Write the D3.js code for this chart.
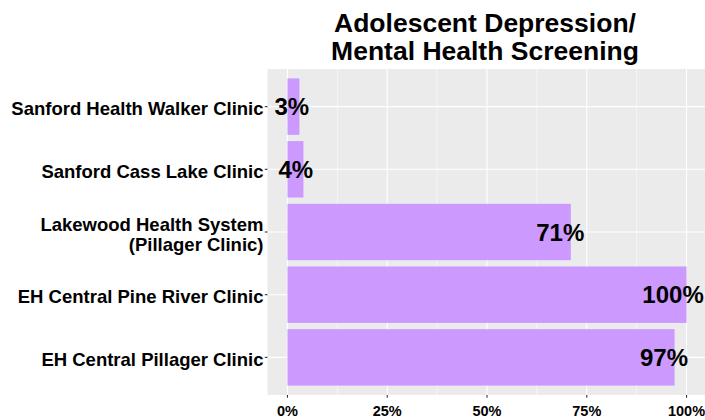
<!DOCTYPE html>
<html><head><meta charset="utf-8">
<script src="https://cdn.jsdelivr.net/npm/d3@7"></script>
<style>body{margin:0;background:#fff}svg{display:block}text{font-family:"Liberation Sans",Arial,sans-serif;font-weight:bold}</style>
</head><body>
<script>
const categories = [
  ["Sanford Health Walker Clinic"],
  ["Sanford Cass Lake Clinic"],
  ["Lakewood Health System", "(Pillager Clinic)"],
  ["EH Central Pine River Clinic"],
  ["EH Central Pillager Clinic"]
];
const values = [3, 4, 71, 100, 97];
const xTicks = [0, 25, 50, 75, 100];
const xMinor = [12.5, 37.5, 62.5, 87.5];
const titleLines = ["Adolescent Depression/", "Mental Health Screening"];

const W = 705, H = 420;
const L = 267.5, R = 706.5, T = 69, B = 395;
const svg = d3.select("body").append("svg").attr("width", W).attr("height", H);

const x = d3.scaleLinear().domain([-5, 105]).range([L, R]);
const keys = categories.map((c, i) => i);
const y = d3.scalePoint().domain(keys).range([T, B]).padding(0.6);
const bh = y.step() * 0.9;

svg.append("rect").attr("x", L).attr("y", T).attr("width", R - L).attr("height", B - T).attr("fill", "#EBEBEB");

svg.selectAll(".minor").data(xMinor).enter().append("line")
  .attr("x1", d => x(d)).attr("x2", d => x(d)).attr("y1", T).attr("y2", B)
  .attr("stroke", "#fff").attr("stroke-width", 0.55);
svg.selectAll(".major").data(xTicks).enter().append("line")
  .attr("x1", d => x(d)).attr("x2", d => x(d)).attr("y1", T).attr("y2", B)
  .attr("stroke", "#fff").attr("stroke-width", 1.1);
svg.selectAll(".hgrid").data(keys).enter().append("line")
  .attr("x1", L).attr("x2", R).attr("y1", d => y(d)).attr("y2", d => y(d))
  .attr("stroke", "#fff").attr("stroke-width", 1.1);

svg.selectAll(".bar").data(keys).enter().append("rect")
  .attr("x", x(0)).attr("y", d => y(d) - bh / 2)
  .attr("width", d => x(values[d]) - x(0)).attr("height", bh)
  .attr("fill", "#CC99FF");

// value labels
svg.selectAll(".val").data(keys).enter().append("text")
  .attr("y", d => y(d) + 8.8)
  .attr("font-size", 24).attr("fill", "#000")
  .text(d => values[d] + "%")
  .each(function(d) {
    const w = this.getComputedTextLength();
    d3.select(this).attr("x", x(values[d]) - 0.72 * w);
  });

// y ticks and labels
svg.selectAll(".yt").data(keys).enter().append("line")
  .attr("x1", L - 2.7).attr("x2", L).attr("y1", d => y(d)).attr("y2", d => y(d))
  .attr("stroke", "#333").attr("stroke-width", 1.1);
categories.forEach((lines, i) => {
  const t = svg.append("text").attr("text-anchor", "end").attr("font-size", 18.5).attr("fill", "#000");
  const n = lines.length;
  lines.forEach((ln, j) => {
    t.append("tspan").attr("x", 263.5).attr("y", y(i) + 8.5 + (j - (n - 1) / 2) * 20).text(ln);
  });
});

// x ticks and labels
svg.selectAll(".xt").data(xTicks).enter().append("line")
  .attr("x1", d => x(d)).attr("x2", d => x(d)).attr("y1", B).attr("y2", B + 2.7)
  .attr("stroke", "#333").attr("stroke-width", 1.1);
svg.selectAll(".xl").data(xTicks).enter().append("text")
  .attr("x", d => x(d)).attr("y", 416).attr("text-anchor", "middle")
  .attr("font-size", 14.5).attr("fill", "#000")
  .text(d => d + "%");

// title
svg.selectAll(".title").data(titleLines).enter().append("text")
  .attr("x", (L + R) / 2 - 2).attr("y", (d, i) => 32 + i * 28)
  .attr("text-anchor", "middle").attr("font-size", 26.5).attr("fill", "#000")
  .text(d => d);
</script>
</body></html>
